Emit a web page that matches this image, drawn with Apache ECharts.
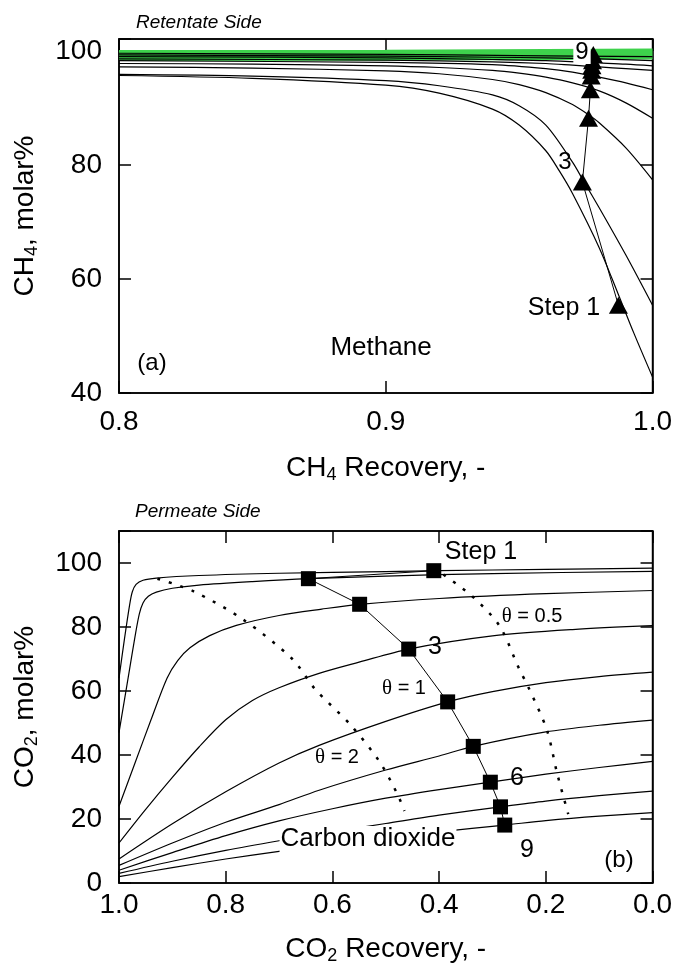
<!DOCTYPE html>
<html>
<head>
<meta charset="utf-8">
<script src="https://cdn.jsdelivr.net/npm/echarts@6/dist/echarts.min.js"></script>
<style>
html, body { margin: 0; padding: 0; background: #fff; }
#chart { width: 675px; height: 966px; }
</style>
</head>
<body>
<div id="chart"></div>
<script>
var FONT = 'Liberation Sans, Arial, Helvetica, sans-serif';

// (a) retentate side - CH4 recovery vs CH4 molar%
var ch4Curve1 = [[0.80,95.7],[0.85,95.2],[0.90,94.0],[0.92,92.6],[0.94,89.8],[0.95,87.0],[0.96,82.5],[0.965,79.0],[0.97,75.0],[0.98,65.5],[0.987,57.5],[0.993,50.5],[1.00,42.8]];
var ch4Curve2 = [[0.80,95.9],[0.85,95.6],[0.90,94.8],[0.92,93.9],[0.94,92.3],[0.95,90.4],[0.96,87.0],[0.97,80.5],[0.974,77.3],[0.98,72.5],[0.99,64.2],[1.00,55.4]];
var ch4Curve3 = [[0.80,97.2],[0.85,97.0],[0.90,96.5],[0.92,96.0],[0.94,95.0],[0.95,94.1],[0.96,92.7],[0.97,90.6],[0.976,88.8],[0.98,87.4],[0.99,83.0],[1.00,77.4]];
var ch4Curve4 = [[0.80,97.8],[0.85,97.7],[0.90,97.4],[0.92,97.1],[0.94,96.6],[0.95,96.1],[0.96,95.4],[0.97,94.4],[0.98,93.0],[0.99,90.9],[1.00,88.2]];
var ch4Curve5 = [[0.80,98.3],[0.90,98.0],[0.94,97.6],[0.96,96.9],[0.97,96.3],[0.98,95.4],[0.99,94.4],[1.00,93.2]];
var ch4Curve6 = [[0.80,98.6],[0.90,98.4],[0.94,98.1],[0.96,97.8],[0.97,97.5],[0.98,97.2],[0.99,96.9],[1.00,96.6]];
var ch4Curve7 = [[0.80,99.0],[0.90,98.8],[0.94,98.5],[0.96,98.3],[0.98,97.9],[0.99,97.7],[1.00,97.4]];
var ch4Curve8 = [[0.80,99.3],[0.90,99.1],[0.94,98.9],[0.96,98.8],[0.98,98.6],[1.00,98.3]];
var ch4Curve9 = [[0.80,99.6],[0.90,99.4],[0.95,99.2],[1.00,99.0]];
var ch4GreenBand = [[0.80,99.2],[0.90,99.25],[1.00,99.45]];
var ch4Steps = [[0.9872,55.4],[0.9737,77.0],[0.976,88.2],[0.9767,93.2],[0.977,95.6],[0.9772,96.6],[0.9773,97.4],[0.9775,98.3],[0.9778,99.4]];

// (b) permeate side - CO2 recovery vs CO2 molar%
var co2CurveA = [[1.0,64],[0.99,76],[0.98,87],[0.975,91],[0.968,93.3],[0.955,94.6],[0.93,95.3],[0.85,96.1],[0.7,96.8],[0.5,97.3],[0.4,97.6],[0.2,98.0],[0.0,98.4]];
var co2CurveB = [[1.0,47],[0.99,57],[0.98,67],[0.97,77],[0.962,84],[0.955,87.5],[0.945,89.6],[0.93,90.9],[0.9,92.1],[0.85,93.1],[0.75,94.2],[0.645,95.1],[0.5,95.9],[0.3,96.7],[0.0,97.4]];
var co2CurveC = [[1.0,24],[0.97,37.5],[0.94,51],[0.91,64],[0.89,69.5],[0.867,73.5],[0.83,77.3],[0.78,80.5],[0.7,83.6],[0.62,85.6],[0.549,87.1],[0.4,88.9],[0.2,90.4],[0.0,91.4]];
var co2CurveD = [[1.0,12.5],[0.95,23],[0.9,33],[0.85,42.5],[0.8,51],[0.75,57],[0.7,61],[0.625,65.5],[0.55,69],[0.457,73.1],[0.3,77.2],[0.15,79.2],[0.0,80.4]];
var co2CurveE = [[1.0,7.5],[0.9,18.5],[0.8,28.5],[0.7,37.5],[0.625,43],[0.5,50.5],[0.384,56.6],[0.3,59.8],[0.2,62.6],[0.1,64.5],[0.0,65.9]];
var co2CurveF = [[1.0,5.5],[0.9,12.5],[0.8,19],[0.7,24.5],[0.625,29],[0.5,35.3],[0.4,39.7],[0.336,42.7],[0.2,47.2],[0.1,49.3],[0.0,50.9]];
var co2CurveG = [[1.0,4],[0.9,9.5],[0.8,14.8],[0.7,19.4],[0.6,23.2],[0.5,26.5],[0.4,29.2],[0.304,31.5],[0.2,34],[0.1,36.1],[0.0,38.0]];
var co2CurveH = [[1.0,3],[0.9,6.8],[0.8,10.2],[0.7,13.2],[0.6,16],[0.5,18.6],[0.4,21.2],[0.285,23.8],[0.2,25.6],[0.1,27.3],[0.0,28.7]];
var co2CurveI = [[1.0,2],[0.9,4.8],[0.8,7.5],[0.7,9.9],[0.6,12.2],[0.5,14.2],[0.4,16.0],[0.277,18.1],[0.2,19.5],[0.1,20.9],[0.0,22.0]];
var co2Steps = [[0.410,97.6],[0.645,95.1],[0.549,87.1],[0.457,73.1],[0.384,56.6],[0.336,42.7],[0.304,31.5],[0.285,23.8],[0.277,18.1]];
var thetaHalf = [[0.392,96.4],[0.338,89.6],[0.287,80.4],[0.25,66.9],[0.233,61.3],[0.198,47.8],[0.179,34.4],[0.158,21.5]];
var thetaTwo = [[0.928,95.1],[0.861,91.2],[0.768,82.4],[0.675,70.0],[0.633,60.7],[0.566,49.4],[0.512,38.0],[0.478,27.7],[0.465,22.5]];

var ch4Ticks = [40, 60, 80, 100];
var co2Ticks = [0, 20, 40, 60, 80, 100];

var dom = document.getElementById('chart');
var myChart = echarts.init(dom, null, { renderer: 'canvas' });

var axisLine = { onZero: false, lineStyle: { color: '#000', width: 1.5 } };
var axisTick = { inside: true, length: 12, lineStyle: { color: '#000', width: 1.5 } };
var subRich = { s: { fontSize: 18, fontFamily: FONT, padding: [14, 0, 0, 0] } };
var nameStyle = { fontSize: 28, fontFamily: FONT, color: '#000', rich: subRich };

function tickFormatter(list) {
    return function (v) {
        return list.indexOf(Math.round(v * 10) / 10) >= 0 ? String(v) : '';
    };
}

function curve(data, idx) {
    return {
        type: 'line', xAxisIndex: idx * 2, yAxisIndex: idx * 2,
        data: data, smooth: 0.3, showSymbol: false, silent: true,
        lineStyle: { color: '#000', width: 1.2 }, z: 3
    };
}

function dotted(data) {
    return {
        type: 'line', xAxisIndex: 2, yAxisIndex: 2,
        data: data, smooth: 0.3, showSymbol: false, silent: true,
        lineStyle: { color: '#000', width: 2.5, type: [3, 9] }, z: 3
    };
}

function text(str, x, y, size, extra) {
    var st = { text: str, x: x, y: y, font: size + 'px ' + FONT, fill: '#000', align: 'center', verticalAlign: 'middle' };
    for (var k in extra) st[k] = extra[k];
    return { type: 'text', z: 100, style: st };
}

var thetaRich = { t: { fontFamily: 'Liberation Serif, serif', fontSize: 21 } };

var option = {
    animation: false,
    backgroundColor: '#fff',
    grid: [
        { left: 119, top: 39, width: 536, height: 354, show: true, borderColor: '#000', borderWidth: 1.5 },
        { left: 119, top: 531, width: 536, height: 355, show: true, borderColor: '#000', borderWidth: 1.5 }
    ],
    xAxis: [
        {
            gridIndex: 0, type: 'value', min: 0.8, max: 1.0, interval: 0.1, position: 'bottom',
            axisLine: axisLine, axisTick: axisTick, splitLine: { show: false },
            axisLabel: { margin: 15, fontSize: 28, fontFamily: FONT, color: '#000', formatter: function (v) { return v.toFixed(1); } },
            name: 'CH{s|4} Recovery, -', nameLocation: 'middle', nameGap: 59, nameTextStyle: nameStyle
        },
        {
            gridIndex: 0, type: 'value', min: 0.8, max: 1.0, interval: 0.1, position: 'top',
            axisLine: axisLine, axisTick: axisTick, splitLine: { show: false }, axisLabel: { show: false }
        },
        {
            gridIndex: 1, type: 'value', min: 0, max: 1, interval: 0.2, inverse: true, position: 'bottom',
            axisLine: axisLine, axisTick: axisTick, splitLine: { show: false },
            axisLabel: { margin: 8, fontSize: 28, fontFamily: FONT, color: '#000', formatter: function (v) { return v.toFixed(1); } },
            name: 'CO{s|2} Recovery, -', nameLocation: 'middle', nameGap: 50, nameTextStyle: nameStyle
        },
        {
            gridIndex: 1, type: 'value', min: 0, max: 1, interval: 0.2, inverse: true, position: 'top',
            axisLine: axisLine, axisTick: axisTick, splitLine: { show: false }, axisLabel: { show: false }
        }
    ],
    yAxis: [
        {
            gridIndex: 0, type: 'value', min: 40, max: 102.1, interval: 20, position: 'left',
            axisLine: axisLine, axisTick: axisTick, splitLine: { show: false },
            axisLabel: { margin: 17, fontSize: 28, fontFamily: FONT, color: '#000', formatter: tickFormatter(ch4Ticks) },
            name: 'CH{s|4}, molar%', nameLocation: 'middle', nameGap: 78, nameTextStyle: nameStyle
        },
        {
            gridIndex: 0, type: 'value', min: 40, max: 102.1, interval: 20, position: 'right',
            axisLine: axisLine, axisTick: axisTick, splitLine: { show: false }, axisLabel: { show: false }
        },
        {
            gridIndex: 1, type: 'value', min: 0, max: 110, interval: 20, position: 'left',
            axisLine: axisLine, axisTick: axisTick, splitLine: { show: false },
            axisLabel: { margin: 17, fontSize: 28, fontFamily: FONT, color: '#000', formatter: tickFormatter(co2Ticks) },
            name: 'CO{s|2}, molar%', nameLocation: 'middle', nameGap: 78, nameTextStyle: nameStyle
        },
        {
            gridIndex: 1, type: 'value', min: 0, max: 110, interval: 20, position: 'right',
            axisLine: axisLine, axisTick: axisTick, splitLine: { show: false }, axisLabel: { show: false }
        }
    ],
    series: [
        {
            type: 'line', xAxisIndex: 0, yAxisIndex: 0, data: ch4GreenBand, showSymbol: false, silent: true,
            lineStyle: { color: '#3ed24c', width: 11, cap: 'butt' }, z: 2
        },
        curve(ch4Curve1, 0), curve(ch4Curve2, 0), curve(ch4Curve3, 0), curve(ch4Curve4, 0), curve(ch4Curve5, 0),
        curve(ch4Curve6, 0), curve(ch4Curve7, 0), curve(ch4Curve8, 0), curve(ch4Curve9, 0),
        {
            type: 'line', xAxisIndex: 0, yAxisIndex: 0, data: ch4Steps, symbol: 'triangle', symbolSize: [19, 17],
            itemStyle: { color: '#000' }, lineStyle: { color: '#000', width: 1 }, silent: true, z: 5
        },
        curve(co2CurveA, 1), curve(co2CurveB, 1), curve(co2CurveC, 1), curve(co2CurveD, 1), curve(co2CurveE, 1),
        curve(co2CurveF, 1), curve(co2CurveG, 1), curve(co2CurveH, 1), curve(co2CurveI, 1),
        dotted(thetaHalf), dotted(thetaTwo),
        {
            type: 'line', xAxisIndex: 2, yAxisIndex: 2, data: co2Steps, symbol: 'rect', symbolSize: 15,
            itemStyle: { color: '#000' }, lineStyle: { color: '#000', width: 1 }, silent: true, z: 5
        }
    ],
    graphic: [
        text('Retentate Side', 136, 23, 19, { font: 'italic 19px ' + FONT, align: 'left' }),
        text('Permeate Side', 135, 512, 19, { font: 'italic 19px ' + FONT, align: 'left' }),
        text('9', 582, 52, 24, { backgroundColor: '#fff', padding: [0, 2] }),
        text('3', 565, 162, 24),
        text('Step 1', 564, 308, 25),
        text('Methane', 381, 348, 26),
        text('(a)', 152, 363, 24),
        text('Step 1', 481, 552, 25),
        text('3', 435, 647, 25),
        text('6', 517, 778, 25),
        text('9', 527, 850, 25),
        text('(b)', 619, 860, 24),
        text('Carbon dioxide', 368, 839, 26, { backgroundColor: '#fff', padding: [0, 1] }),
        text('{t|θ} = 0.5', 532, 616, 20, { rich: thetaRich }),
        text('{t|θ} = 1', 404, 688, 20, { rich: thetaRich }),
        text('{t|θ} = 2', 337, 757, 20, { rich: thetaRich })
    ]
};

myChart.setOption(option);
</script>
</body>
</html>
